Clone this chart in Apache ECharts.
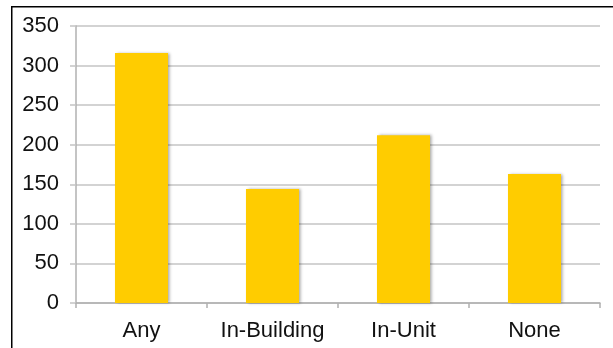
<!DOCTYPE html>
<html>
<head>
<meta charset="utf-8">
<style>
  html, body { margin: 0; padding: 0; background: #ffffff; }
  #chart { width: 613px; height: 348px; }
</style>
<script src="https://cdn.jsdelivr.net/npm/echarts@6/dist/echarts.min.js"></script>
</head>
<body>
<div id="chart"></div>
<script>
// Laundry availability categories and their counts
const categories = ['Any', 'In-Building', 'In-Unit', 'None'];
const counts = [316, 144, 212, 163];

// Value axis range
const yMin = 0;
const yMax = 350;
const yStep = 50;

const chart = echarts.init(document.getElementById('chart'), null, { renderer: 'canvas' });

const gridColor = '#c4c4c4';
const axisColor = '#b0b0b0';
const labelFont = {
  fontFamily: '"Liberation Sans", Arial, Helvetica, sans-serif',
  fontSize: 22,
  color: '#111111'
};

chart.setOption({
  animation: false,
  backgroundColor: '#ffffff',
  grid: { left: 76, right: 13, top: 26, bottom: 45, containLabel: false },
  graphic: [{
    type: 'rect',
    shape: { x: 11.75, y: 6.75, width: 800, height: 500 },
    style: { fill: 'none', stroke: '#000000', lineWidth: 1.5 },
    z: 100
  }],
  xAxis: {
    type: 'category',
    data: categories,
    boundaryGap: true,
    axisLine: { show: true, lineStyle: { color: axisColor, width: 1.5 } },
    axisTick: { show: true, length: 5, interval: 0, alignWithLabel: false, lineStyle: { color: axisColor, width: 1.5 } },
    axisLabel: Object.assign({ margin: 17, interval: 0, hideOverlap: false }, labelFont),
    splitLine: { show: false }
  },
  yAxis: {
    type: 'value',
    min: yMin,
    max: yMax,
    interval: yStep,
    axisLine: { show: true, lineStyle: { color: axisColor, width: 1.5 } },
    axisTick: { show: true, length: 6, lineStyle: { color: gridColor, width: 1.5 } },
    axisLabel: Object.assign({ margin: 17 }, labelFont),
    splitLine: { show: true, lineStyle: { color: gridColor, width: 1.5 } }
  },
  series: [{
    type: 'bar',
    data: counts,
    barWidth: '40.5%',
    itemStyle: {
      color: '#ffcc00',
      shadowColor: 'rgba(0,0,0,0.35)',
      shadowBlur: 3,
      shadowOffsetX: 2,
      shadowOffsetY: 0
    }
  }]
});
</script>
</body>
</html>
